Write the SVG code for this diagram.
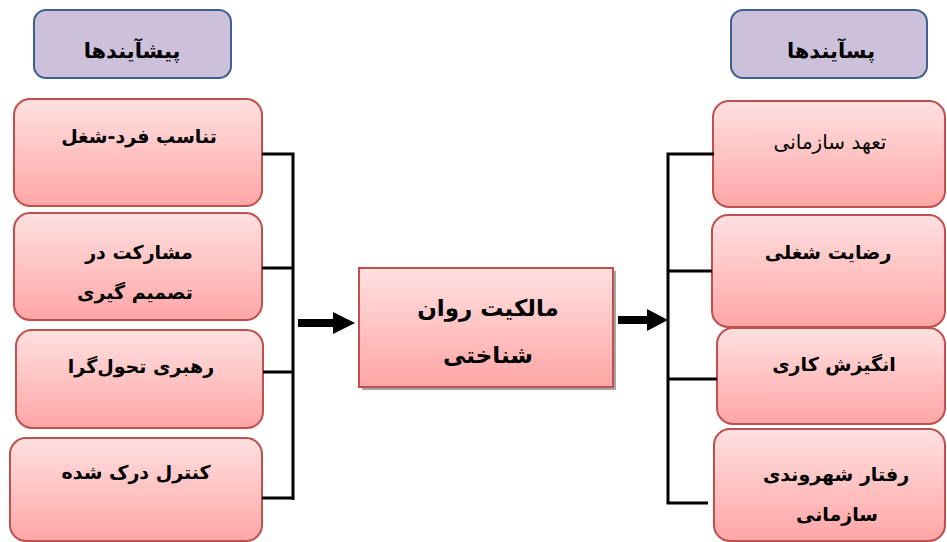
<svg xmlns="http://www.w3.org/2000/svg" width="947" height="542" viewBox="0 0 947 542">
<style>
.hdr{fill:#ccc0da;stroke:#3b5f8f;stroke-width:2}
.box{fill:url(#pink);stroke:#c0504d;stroke-width:2}
.t{font-family:"DejaVu Sans",sans-serif;font-weight:bold;font-size:19px;fill:#000;text-anchor:middle}
.th{font-size:21px}
.tc{font-size:23px}
.tn{font-weight:normal;font-size:20px}
.ln{stroke:#000;stroke-width:3;fill:none}
.sh{stroke:#000;stroke-width:8;fill:none}
</style>
<defs>
<linearGradient id="pink" x1="0" y1="0" x2="0" y2="1">
<stop offset="0" stop-color="#ffe0e0"/>
<stop offset="1" stop-color="#ffa6a6"/>
</linearGradient>
</defs>
<rect width="947" height="542" fill="#fff"/>
<g id="hdr-left"><rect class="hdr" x="34" y="10" width="197" height="68" rx="12"/><text class="t th" x="132" y="58">پیشآیندها</text></g>
<g id="hdr-right"><rect class="hdr" x="731" y="10" width="196" height="68" rx="12"/><text class="t th" x="831" y="58">پسآیندها</text></g>
<g id="l1"><rect class="box" x="14" y="99" width="248" height="107" rx="16"/><text class="t" x="139" y="143">تناسب فرد-شغل</text></g>
<g id="l2"><rect class="box" x="14" y="213" width="248" height="107" rx="16"/><text class="t" x="139" y="259">مشارکت در</text><text class="t" x="135" y="299">تصمیم گیری</text></g>
<g id="l3"><rect class="box" x="16" y="330" width="247" height="98" rx="16"/><text class="t" x="141" y="373">رهبری تحول‌گرا</text></g>
<g id="l4"><rect class="box" x="10" y="438" width="252" height="103" rx="16"/><text class="t" x="136" y="479">کنترل درک شده</text></g>
<g id="center"><rect x="362" y="271" width="254" height="119" fill="#a6a6a6"/><rect class="box" x="359" y="268" width="254" height="119"/><text class="t tc" x="488" y="316">مالکیت روان</text><text class="t tc" x="488" y="363">شناختی</text></g>
<g id="r1"><rect class="box" x="713" y="101" width="232" height="106" rx="16"/><text class="t tn" x="830" y="149">تعهد سازمانی</text></g>
<g id="r2"><rect class="box" x="712" y="215" width="233" height="112" rx="16"/><text class="t" x="828" y="259">رضایت شغلی</text></g>
<g id="r3"><rect class="box" x="717" y="328" width="228" height="96" rx="16"/><text class="t" x="834" y="371">انگیزش کاری</text></g>
<g id="r4"><rect class="box" x="714" y="429" width="231" height="112" rx="16"/><text class="t" x="836" y="481">رفتار شهروندی</text><text class="t" x="837" y="521">سازمانی</text></g>
<g id="connectors">
<path class="ln" d="M262 154H293V500M262 268H293M263 372H293M262 498H293"/>
<path class="sh" d="M298 323H336"/>
<path d="M333 312L355 323L333 334Z" fill="#000"/>
<path class="sh" d="M618 320H650"/>
<path d="M647 309L668 320L647 331Z" fill="#000"/>
<path class="ln" d="M714 154H668V503H708M668 271H712M668 379H717"/>
</g>
</svg>
